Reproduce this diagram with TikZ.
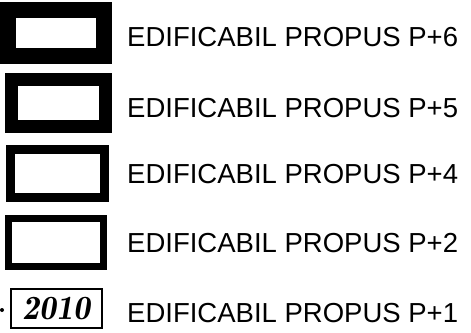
\documentclass[tikz,border=0pt]{standalone}
\usepackage{fontspec}
\setmainfont{Liberation Sans}
\usetikzlibrary{positioning}

\begin{document}
\begin{tikzpicture}[x=1pt,y=-1pt,
    swatch/.style={draw,line width=#1,inner sep=0pt,fill=white},
    legtext/.style={anchor=base west,inner sep=0pt,font=\fontsize{27.5}{30}\selectfont}]
    \useasboundingbox[fill=white] (0,0) rectangle (471,332);
    % legend swatches, outline gets thinner with height
    \node[swatch=16pt,minimum width=96pt,minimum height=46pt] (p6) at (56,33) {};
    \node[swatch=13pt,minimum width=94pt,minimum height=47pt] (p5) at (58.5,103) {};
    \node[swatch=9pt,minimum width=94pt,minimum height=48pt] (p4) at (57,173) {};
    \node[swatch=7pt,minimum width=95pt,minimum height=48pt] (p2) at (56,242.5) {};
    \node[swatch=2.5pt,minimum width=91pt,minimum height=39pt] (p1) at (56.5,308.5)
        {\fontfamily{lmr}\fontsize{34}{34}\selectfont\bfseries\itshape 2010};
    \fill (2,310) circle (2pt);
    % labels
    \node[legtext] (l6) at (127,46) {EDIFICABIL PROPUS P+6};
    \node[legtext] (l5) at (127,117) {EDIFICABIL PROPUS P+5};
    \node[legtext] (l4) at (127,183) {EDIFICABIL PROPUS P+4};
    \node[legtext] (l2) at (127,252) {EDIFICABIL PROPUS P+2};
    \node[legtext] (l1) at (127,322) {EDIFICABIL PROPUS P+1};
\end{tikzpicture}
\end{document}
